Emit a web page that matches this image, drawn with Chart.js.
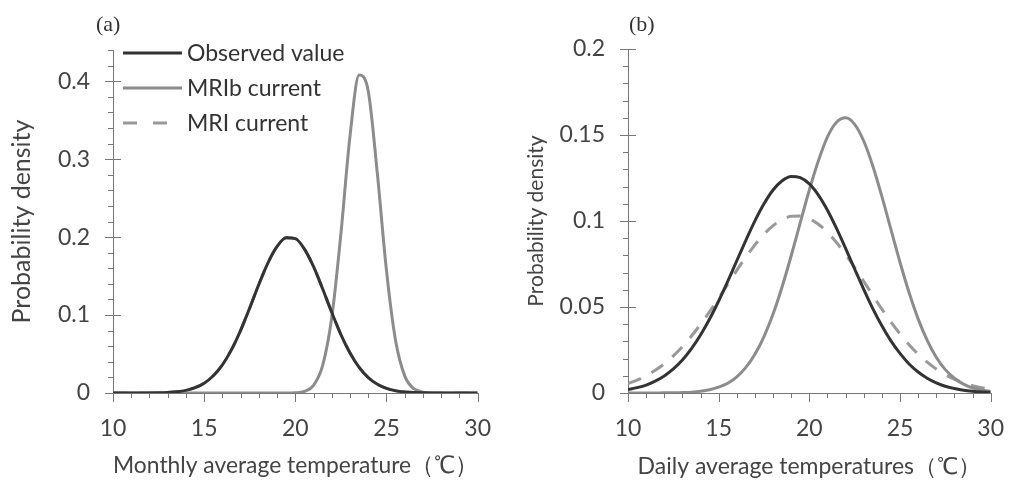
<!DOCTYPE html>
<html lang="en">
<head>
<meta charset="UTF-8">
<style>
  * { margin: 0; padding: 0; box-sizing: border-box; }
  body { background: #fff; width: 1026px; height: 480px; position: relative; overflow: hidden; }
  .panel { position: absolute; top: 0; width: 513px; height: 480px; }
  .tag { position: absolute; top: 11px; font-family: "Liberation Serif", serif; font-size: 22px; color: #333; }
</style>
</head>
<body>
<div class="panel" style="left:0">
  <canvas id="chartA" width="513" height="480"></canvas>
  <div class="tag" style="left:96px">(a)</div>
</div>
<div class="panel" style="left:513px">
  <canvas id="chartB" width="513" height="480"></canvas>
  <div class="tag" style="left:116px">(b)</div>
</div>

<script src="https://cdn.jsdelivr.net/npm/chart.js"></script>
<script>
// temperature grid (degC)
const temps = [10, 10.5, 11, 11.5, 12, 12.5, 13, 13.5, 14, 14.5, 15, 15.5, 16, 16.5, 17, 17.5, 18, 18.5, 19, 19.5,
  20, 20.5, 21, 21.5, 22, 22.5, 23, 23.5, 24, 24.5, 25, 25.5, 26, 26.5, 27, 27.5, 28, 28.5, 29, 29.5, 30];

const seriesNames = ["Observed value", "MRIb current", "MRI current"];

// (a) monthly average temperature
const monthlyObserved = [0, 0, 0, 0, 0.0001, 0.0003, 0.0007, 0.0016, 0.0034, 0.0068, 0.0126, 0.0221, 0.0361, 0.0556, 0.0804, 0.1092, 0.1394, 0.167, 0.188, 0.199,
  0.198, 0.1846, 0.162, 0.1334, 0.1033, 0.075, 0.0513, 0.0329, 0.0198, 0.0112, 0.006, 0.003, 0.0014, 0.0006, 0.0003, 0.0001, 0, 0, 0, 0, 0];
const monthlyMRIb = [0, 0, 0, 0, 0, 0, 0, 0, 0, 0, 0, 0, 0, 0, 0, 0, 0, 0, 0, 0,
  0.0003, 0.0021, 0.0099, 0.0354, 0.0971, 0.2045, 0.33, 0.408, 0.387, 0.281, 0.157, 0.067, 0.022, 0.0055, 0.0011, 0.0001, 0, 0, 0, 0, 0];
const monthlyMRI = [0, 0, 0, 0, 0.0001, 0.0003, 0.0007, 0.0016, 0.0034, 0.0068, 0.0126, 0.0221, 0.0361, 0.0556, 0.0804, 0.1092, 0.1394, 0.167, 0.188, 0.199,
  0.198, 0.1846, 0.162, 0.1334, 0.1033, 0.075, 0.0513, 0.0329, 0.0198, 0.0112, 0.006, 0.003, 0.0014, 0.0006, 0.0003, 0.0001, 0, 0, 0, 0, 0];

// (b) daily average temperatures
const dailyObserved = [0.002, 0.0031, 0.0046, 0.0069, 0.0099, 0.014, 0.0192, 0.0258, 0.0337, 0.043, 0.0535, 0.0649, 0.0769, 0.0888, 0.1001, 0.110, 0.118, 0.1234, 0.1259, 0.1252,
  0.1216, 0.1151, 0.1063, 0.0957, 0.0841, 0.0721, 0.0603, 0.0491, 0.0391, 0.0303, 0.023, 0.0169, 0.0122, 0.0086, 0.0059, 0.0039, 0.0026, 0.0016, 0.001, 0.0006, 0.0004];
const dailyMRIb = [0, 0, 0, 0, 0.0001, 0.0001, 0.0003, 0.0005, 0.001, 0.0019, 0.0034, 0.0057, 0.0094, 0.0149, 0.0225, 0.0328, 0.0459, 0.0618, 0.0798, 0.099,
  0.118, 0.135, 0.1489, 0.1574, 0.16, 0.1562, 0.1465, 0.132, 0.1143, 0.0951, 0.076, 0.0584, 0.0431, 0.0306, 0.0208, 0.0136, 0.0086, 0.0052, 0.003, 0.0017, 0.0009];
const dailyMRI = [0.0055, 0.0075, 0.0101, 0.0132, 0.017, 0.0216, 0.0269, 0.0331, 0.0399, 0.0473, 0.0551, 0.0632, 0.0713, 0.079, 0.0861, 0.0923, 0.0973, 0.1008, 0.1027, 0.1029,
  0.1013, 0.0981, 0.0934, 0.0875, 0.0805, 0.0729, 0.0649, 0.0568, 0.0488, 0.0413, 0.0344, 0.0281, 0.0226, 0.0179, 0.0139, 0.0106, 0.008, 0.0059, 0.0043, 0.0031, 0.0022];

const xTicks = [10, 15, 20, 25, 30];
const xTickLabels = ["10", "15", "20", "25", "30"];
const monthlyYTicks = [0, 0.1, 0.2, 0.3, 0.4];
const monthlyYLabels = ["0", "0.1", "0.2", "0.3", "0.4"];
const dailyYTicks = [0, 0.05, 0.1, 0.15, 0.2];
const dailyYLabels = ["0", "0.05", "0.1", "0.15", "0.2"];

Chart.defaults.font.family = "Lato, sans-serif";
Chart.defaults.color = "#444";

// small tick marks along both axes (major + minor)
const axisMarks = {
  id: "axisMarks",
  afterDraw(chart, args, o) {
    const { ctx } = chart;
    const x = chart.scales.x, y = chart.scales.y;
    ctx.save();
    ctx.strokeStyle = "#777";
    ctx.lineWidth = 1;
    ctx.beginPath();
    let n = Math.round((x.max - x.min) / o.xStep);
    for (let i = 0; i <= n; i++) {
      const v = x.min + i * o.xStep;
      const px = Math.round(x.getPixelForValue(v)) + 0.5;
      const major = i % o.xEvery === 0;
      ctx.moveTo(px, x.top);
      ctx.lineTo(px, x.top + (major ? 9 : 5));
    }
    n = Math.round((y.max - y.min) / o.yStep);
    for (let i = 0; i <= n; i++) {
      const v = y.min + i * o.yStep;
      const py = Math.round(y.getPixelForValue(v)) + 0.5;
      const major = i % o.yEvery === 0;
      ctx.moveTo(y.right - (major ? 8 : 5), py);
      ctx.lineTo(y.right + (major ? 8 : 0), py);
    }
    ctx.stroke();
    ctx.restore();
  }
};

// legend drawn inside the plot area
const insetLegend = {
  id: "insetLegend",
  afterDraw(chart, args, o) {
    const { ctx } = chart;
    ctx.save();
    ctx.font = "23px Lato, sans-serif";
    ctx.fillStyle = "#333";
    ctx.textBaseline = "middle";
    chart.data.datasets.forEach((ds, i) => {
      const yy = o.y + i * o.gap;
      ctx.strokeStyle = ds.borderColor;
      ctx.lineWidth = ds.borderWidth;
      ctx.setLineDash(ds.legendDash || []);
      ctx.beginPath();
      ctx.moveTo(o.x, yy);
      ctx.lineTo(o.x + o.len, yy);
      ctx.stroke();
      ctx.fillText(ds.label, o.x + o.len + 5, yy + 1);
    });
    ctx.restore();
  }
};

function series(values, i) {
  const styles = [
    { borderColor: "#333", borderWidth: 3, order: 0 },
    { borderColor: "#8c8c8c", borderWidth: 3, order: 1 },
    { borderColor: "#999", borderWidth: 3, order: 2, borderDash: [14, 12], legendDash: [14, 16] }
  ];
  return Object.assign({
    label: seriesNames[i],
    data: temps.map((t, k) => ({ x: t, y: values[k] })),
    pointRadius: 0,
    cubicInterpolationMode: "monotone",
    fill: false
  }, styles[i]);
}

function makeChart(id, sets, p) {
  return new Chart(id, {
    type: "line",
    data: { datasets: sets },
    options: {
      responsive: false,
      animation: false,
      devicePixelRatio: 1,
      layout: { padding: p.pad },
      plugins: {
        legend: { display: false },
        tooltip: { enabled: false },
        axisMarks: { xStep: 1, xEvery: 5, yStep: p.yStep, yEvery: 5 },
        insetLegend: p.legend
      },
      scales: {
        x: {
          type: "linear",
          min: 10, max: 30,
          afterBuildTicks: s => { s.ticks = xTicks.map(v => ({ value: v })); },
          afterFit: s => { s.height = 87; },
          ticks: { padding: 22, font: { size: 23 }, color: "#444", maxRotation: 0,
            callback: (v, i) => xTickLabels[i] },
          grid: { drawOnChartArea: false, drawTicks: false, color: "#777" },
          border: { color: "#777", width: 1 },
          title: { display: true, text: p.xTitle, font: { size: p.xTitleSize }, color: "#444", padding: { top: 0, bottom: 0 } }
        },
        y: {
          min: 0, max: p.yMax,
          afterBuildTicks: s => { s.ticks = p.yTicks.map(v => ({ value: v })); },
          afterFit: s => { s.width = p.yWidth; },
          ticks: { padding: 23, font: { size: 23 }, color: "#444",
            callback: (v, i) => p.yLabels[i] },
          grid: { drawOnChartArea: false, drawTicks: false, color: "#777" },
          border: { color: "#777", width: 1 },
          title: { display: true, text: "Probability density", font: { size: p.yTitleSize }, color: "#444",
            padding: { top: p.yTitlePad, bottom: 0 } }
        }
      }
    },
    plugins: [axisMarks, insetLegend]
  });
}

makeChart("chartA",
  [series(monthlyObserved, 0), series(monthlyMRIb, 1), series(monthlyMRI, 2)],
  { yMax: 0.44, yTicks: monthlyYTicks, yLabels: monthlyYLabels, yStep: 0.02,
    xTitle: "Monthly average temperature（℃）", xTitleSize: 24,
    yTitleSize: 25, yTitlePad: 7,
    pad: { left: 0, right: 20, top: 50, bottom: 0 }, yWidth: 113,
    legend: { x: 123, y: 53, gap: 35, len: 59 } });

makeChart("chartB",
  [series(dailyObserved, 0), series(dailyMRIb, 1), series(dailyMRI, 2)],
  { yMax: 0.2, yTicks: dailyYTicks, yLabels: dailyYLabels, yStep: 0.01,
    xTitle: "Daily average temperatures（℃）", xTitleSize: 23,
    yTitleSize: 21, yTitlePad: 11,
    pad: { left: 0, right: 16, top: 49, bottom: 0 }, yWidth: 115,
    legend: { x: 641, y: 52, gap: 35, len: 57 } });
</script>
</body>
</html>
